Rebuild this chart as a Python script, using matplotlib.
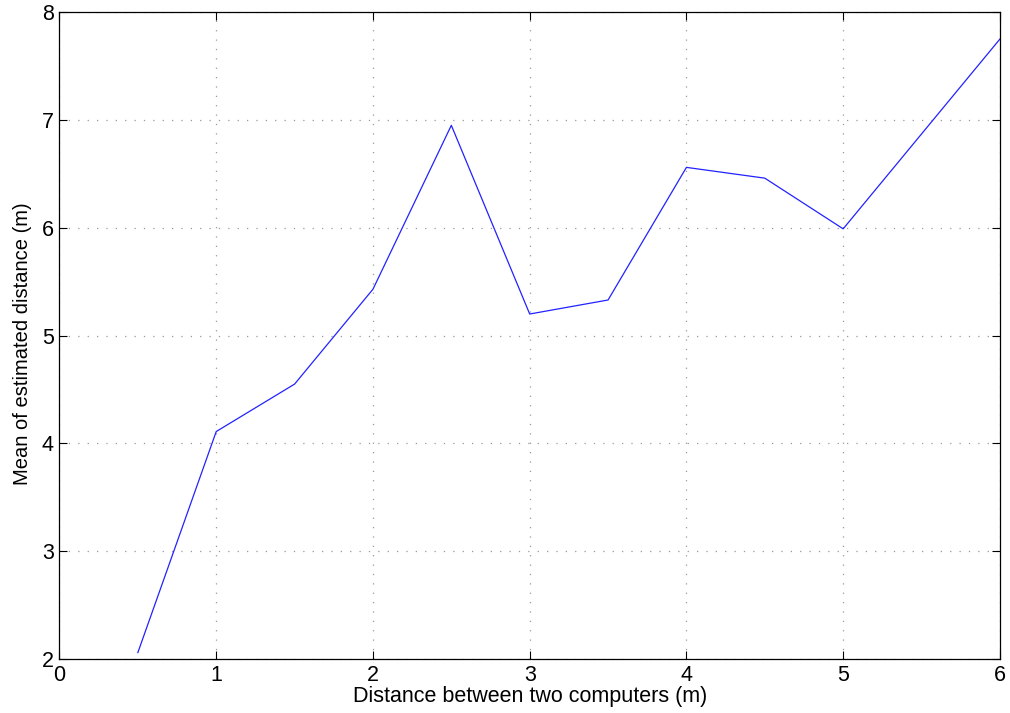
import matplotlib

matplotlib.use("Agg")
import matplotlib.pyplot as plt

# distance between computers (m) vs mean of estimated distance (m)
true_dist = [0.5, 1.0, 1.5, 2.0, 2.5, 3.0, 3.5, 4.0, 4.5, 5.0, 5.5, 6.0]
mean_est = [2.06, 4.11, 4.55, 5.43, 6.95, 5.20, 5.33, 6.56, 6.46, 5.99, 6.87, 7.75]

x_ticks = [0, 1, 2, 3, 4, 5, 6]
y_ticks = [2, 3, 4, 5, 6, 7, 8]

plt.rcParams["font.family"] = ["Liberation Sans", "DejaVu Sans"]

fig = plt.figure(figsize=(10.1, 7.13), dpi=100)
ax = fig.add_axes([0.0589, 0.0757, 0.9311, 0.9073])

ax.plot(true_dist, mean_est, color="#2222ff", linewidth=0.9)

ax.set_xlim(0, 6)
ax.set_ylim(2, 8)
ax.set_xticks(x_ticks)
ax.set_yticks(y_ticks)
ax.grid(True, color="#999999", linestyle=(0, (1, 6.5)), linewidth=0.9)
ax.tick_params(direction="in", length=6, width=0.8, labelsize=15.5,
               top=True, right=True, pad=4)
for s in ax.spines.values():
    s.set_linewidth(0.9)

ax.set_xlabel("Distance between two computers (m)", fontsize=15.5, labelpad=0)
ax.set_ylabel("Mean of estimated distance (m)", fontsize=14.5)
ax.yaxis.set_label_coords(-0.029, 0.488)

fig.savefig("out.png", dpi=100)
